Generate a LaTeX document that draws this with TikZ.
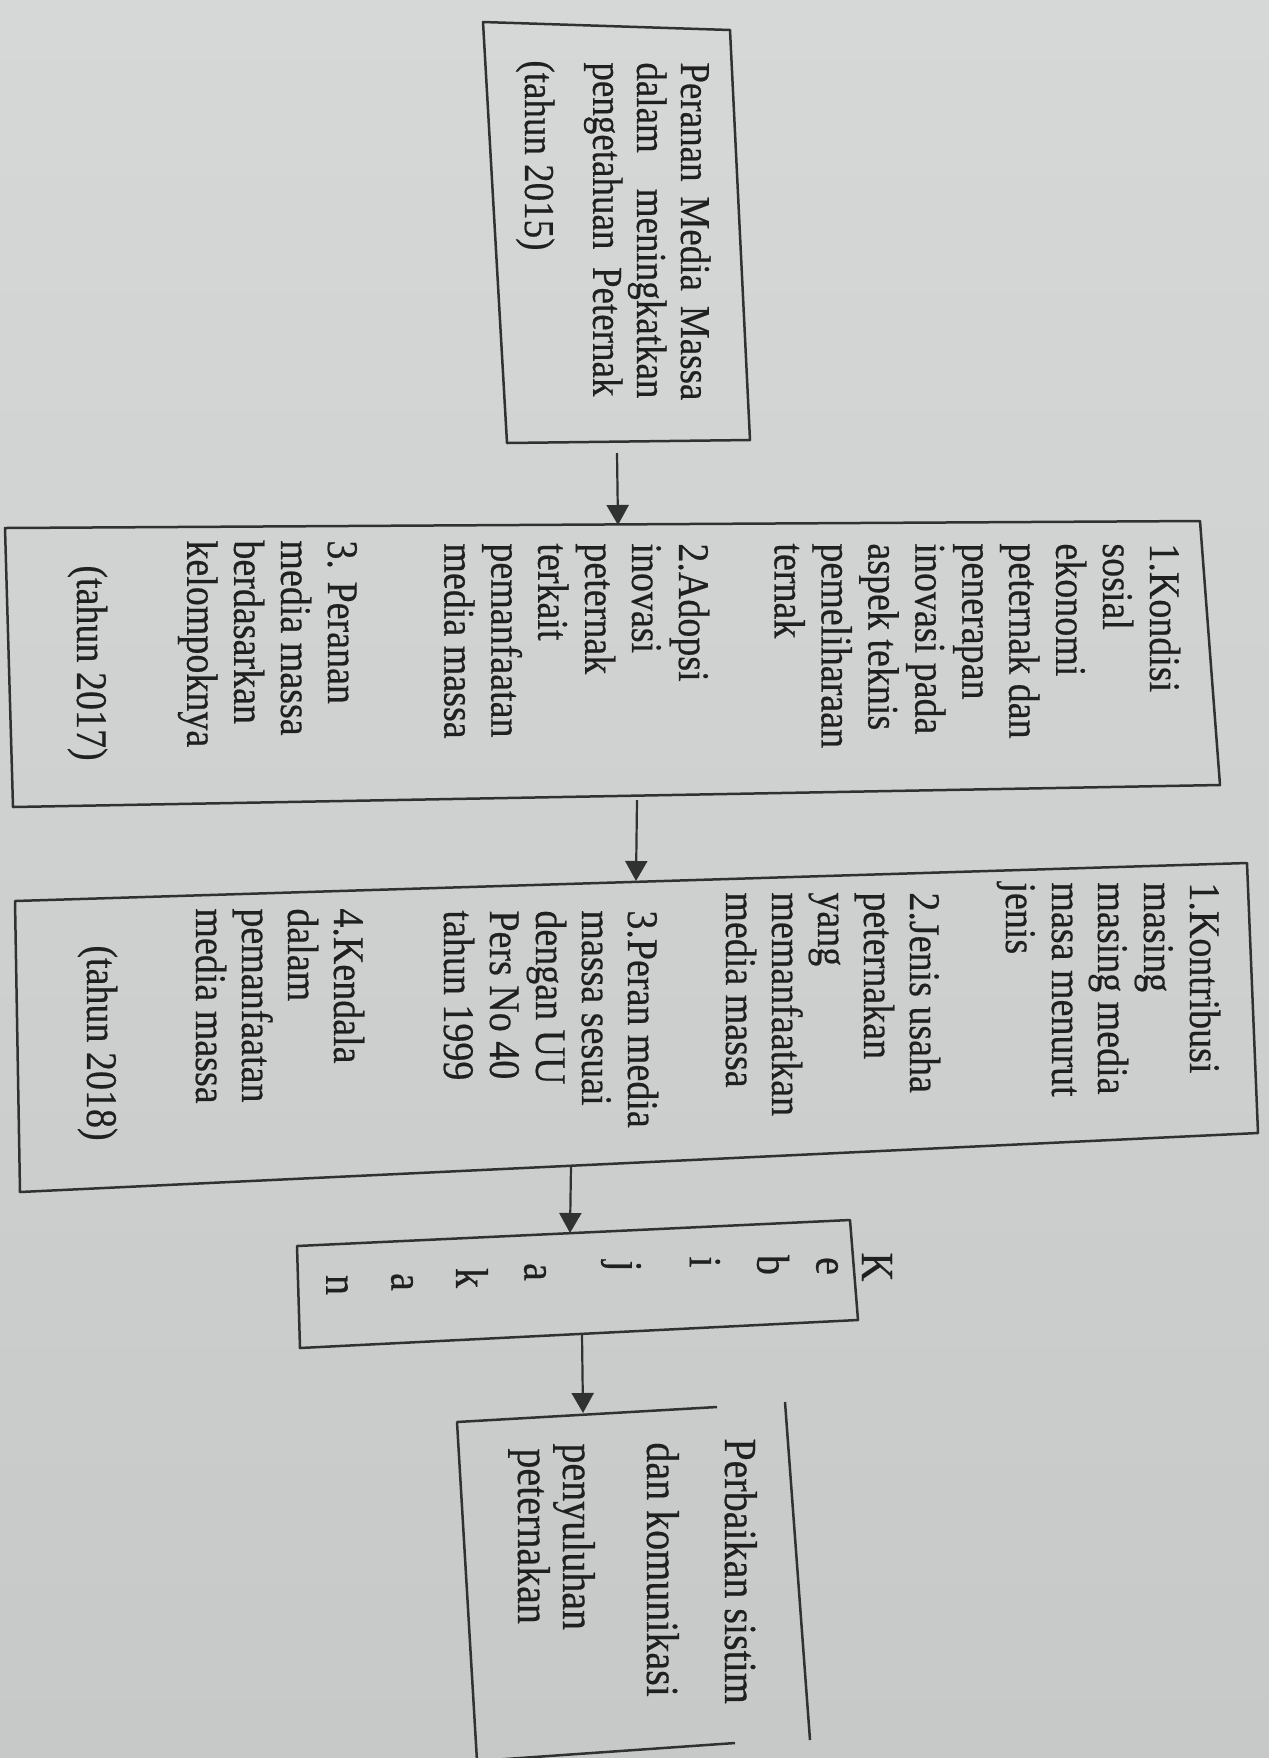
\documentclass[tikz,border=0pt]{standalone}
\usepackage{fontspec}
\setmainfont{Liberation Serif}[FakeBold=0.5]
\usetikzlibrary{arrows.meta}
\definecolor{paperA}{RGB}{214,216,215}
\definecolor{paperB}{RGB}{198,201,200}
\definecolor{linec}{RGB}{48,50,50}
\definecolor{ink}{RGB}{32,32,32}
\newcommand{\colbox}[1]{\begin{tabular}[t]{@{}l@{}}#1\end{tabular}}
\begin{document}
\begin{tikzpicture}[x=0.5pt,y=-0.5pt,
  box/.style={draw=linec,line width=1.25pt,line join=round},
  arr/.style={draw=linec,line width=1.1pt,-{Triangle[width=11pt,length=10pt]}},
  vtext/.style={xscale=1.15,rotate=-90,anchor=base west,inner sep=0pt,text=ink},
  txtA/.style={vtext,font=\fontsize{18.5}{19.1}\selectfont},
  txtB/.style={vtext,font=\fontsize{19}{20.4}\selectfont},
  txtC/.style={vtext,font=\fontsize{19}{20}\selectfont},
  txtE/.style={vtext,font=\fontsize{20}{21}\selectfont},
  letter/.style={xscale=1.15,rotate=-90,anchor=center,inner sep=0pt,text=ink,font=\fontsize{20}{21}\selectfont},
]
\shade[top color=paperA,bottom color=paperB] (0,0) rectangle (1269,1758);
\useasboundingbox (0,0) rectangle (1269,1758);

% ---------- box 1 ----------
\coordinate (b1a) at (483,22);
\coordinate (b1b) at (730,30);
\coordinate (b1c) at (750,440);
\coordinate (b1d) at (507,443);
\draw[box] (b1a) -- (b1b) -- (b1c) -- (b1d) -- cycle;
\node[txtA] (t1) at (681,62) {\colbox{\makebox[169pt][s]{Peranan Media Massa}\\
  \makebox[168pt][s]{dalam meningkatkan}\\
  \makebox[167pt][s]{pengetahuan Peternak}}};
\node[txtA] (t1y) at (525,60) {(tahun 2015)};

% ---------- box 2 ----------
\coordinate (b2a) at (5,528);
\coordinate (b2b) at (1200,521);
\coordinate (b2c) at (1220,785);
\coordinate (b2d) at (13,807);
\draw[box] (b2a) -- (b2b) -- (b2c) -- (b2d) -- cycle;
\node[txtB] (t2a) at (1150,543) {\colbox{1.Kondisi\\sosial\\ekonomi\\peternak dan\\penerapan\\inovasi pada\\aspek teknis\\pemeliharaan\\ternak}};
\node[txtB] (t2b) at (679,543) {\colbox{2.Adopsi\\inovasi\\peternak\\terkait\\pemanfaatan\\media massa}};
\node[txtB] (t2c) at (328,540) {\colbox{3. Peranan\\media massa\\berdasarkan\\kelompoknya}};
\node[txtB] (t2y) at (77,565) {(tahun 2017)};

% ---------- box 3 ----------
\coordinate (b3a) at (15,901);
\coordinate (b3b) at (1247,863);
\coordinate (b3c) at (1258,1133);
\coordinate (b3d) at (20,1192);
\draw[box] (b3a) -- (b3b) -- (b3c) -- (b3d) -- cycle;
\node[txtC] (t3a) at (1190,882) {\colbox{1.Kontribusi\\masing\\masing media\\masa menurut\\jenis}};
\node[txtC] (t3b) at (910,892) {\colbox{2.Jenis usaha\\peternakan\\yang\\memanfaatkan\\media massa}};
\node[txtC] (t3c) at (628,910) {\colbox{3.Peran media\\massa sesuai\\dengan UU\\Pers No 40\\tahun 1999}};
\node[txtC] (t3d) at (334,908) {\colbox{4.Kendala\\dalam\\pemanfaatan\\media massa}};
\node[txtC] (t3y) at (87,945) {(tahun 2018)};

% ---------- box 4 (Kebijakan) ----------
\coordinate (b4a) at (297,1246);
\coordinate (b4b) at (850,1220);
\coordinate (b4c) at (858,1320);
\coordinate (b4d) at (300,1348);
\draw[box] (b4a) -- (b4b) -- (b4c) -- (b4d) -- cycle;
\node[letter] (k1) at (877,1267) {K};
\node[letter] (k2) at (827,1266) {e};
\node[letter] (k3) at (773,1265) {b};
\node[letter] (k4) at (705,1262) {i};
\node[letter] (k5) at (621,1266) {j};
\node[letter] (k6) at (535,1272) {a};
\node[letter] (k7) at (472,1278) {k};
\node[letter] (k8) at (402,1282) {a};
\node[letter] (k9) at (337,1285) {n};

% ---------- box 5 ----------
\coordinate (b5a) at (717,1407);
\coordinate (b5b) at (457,1422);
\coordinate (b5c) at (477,1761);
\coordinate (b5d) at (735,1743);
\coordinate (b5e) at (785,1402);
\coordinate (b5f) at (810,1740);
\draw[box] (b5a) -- (b5b) -- (b5c) -- (b5d);
\draw[box] (b5e) -- (b5f);
\node[txtE] (t5a) at (725,1438) {Perbaikan sistim};
\node[txtE] (t5b) at (647,1442) {dan komunikasi};
\node[txtE] (t5c) at (563,1443) {penyuluhan};
\node[txtE] (t5d) at (518,1448) {peternakan};

% ---------- connectors ----------
\coordinate (a1s) at (617,453);
\coordinate (a1e) at (618,525);
\coordinate (a2s) at (637,800);
\coordinate (a2e) at (636,881);
\coordinate (a3s) at (571,1166);
\coordinate (a3e) at (570,1233);
\coordinate (a4s) at (582,1334);
\coordinate (a4e) at (583,1413);
\draw[arr] (a1s) -- (a1e);
\draw[arr] (a2s) -- (a2e);
\draw[arr] (a3s) -- (a3e);
\draw[arr] (a4s) -- (a4e);
\end{tikzpicture}
\end{document}
